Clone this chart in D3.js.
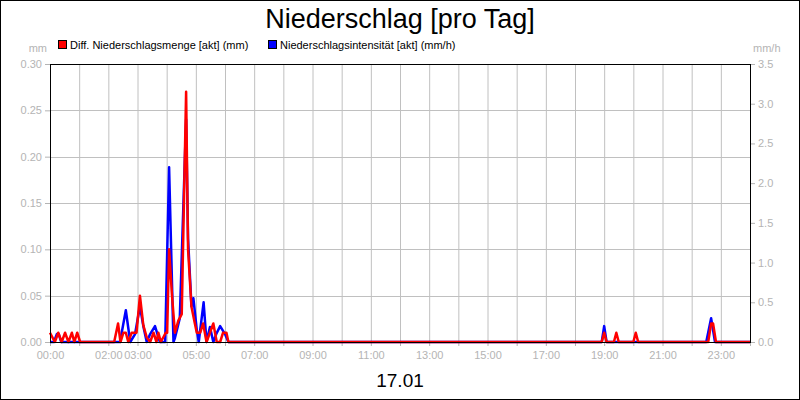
<!DOCTYPE html>
<html>
<head>
<meta charset="utf-8">
<title>Niederschlag [pro Tag]</title>
<script src="https://cdn.jsdelivr.net/npm/d3@7"></script>
<style>
    body { margin: 0; background: #fff; }
    text { font-family: "Liberation Sans", Arial, sans-serif; }
    .tick text { fill: #b4b4b4; font-size: 11px; }
    .grid line { stroke: #c0c0c0; stroke-width: 1; }
</style>
</head>
<body>
<script>
    // Diff. Niederschlagsmenge [akt] (mm)
    var redTimes = ["0:00", "0:10", "0:17", "0:24", "0:31", "0:38", "0:45", "0:50", "0:56", "1:02",
        "2:12", "2:20", "2:25", "2:31", "2:36", "2:41", "2:48", "2:55", "2:58", "3:05", "3:12", "3:19",
        "3:26", "3:33", "3:39", "3:43", "3:48", "3:58", "4:01", "4:05", "4:11", "4:17", "4:24", "4:31",
        "4:40", "4:44", "4:51", "4:58", "5:02", "5:09", "5:15", "5:22", "5:36", "5:43", "5:50", "5:56",
        "6:03", "6:07", "18:55", "19:00", "19:05", "19:20", "19:25", "19:30", "20:00", "20:05", "20:10",
        "22:34", "22:40", "22:44", "22:50", "24:00"];
    var redValues = [0.01, 0, 0.01, 0, 0.01, 0, 0.01, 0, 0.01, 0,
        0, 0.02, 0, 0.01, 0.01, 0, 0.01, 0.01, 0.01, 0.05, 0.018, 0.005,
        0, 0.01, 0, 0.01, 0, 0.01, 0.01, 0.10, 0.05, 0.01, 0.023, 0.03,
        0.27, 0.10, 0.038, 0.02, 0.01, 0.01, 0.02, 0, 0.02, 0, 0, 0.01,
        0.01, 0, 0, 0.01, 0, 0, 0.01, 0, 0, 0.01, 0,
        0, 0.02, 0.02, 0, 0];

    // Niederschlagsintensität [akt] (mm/h)
    var blueTimes = ["0:00", "0:08", "0:14", "0:18", "0:23", "2:24", "2:36", "2:45", "2:55", "3:05",
        "3:12", "3:19", "3:26", "3:36", "3:46", "3:57", "4:05", "4:14", "4:17", "4:23", "4:27", "4:40",
        "4:44", "4:51", "4:55", "5:02", "5:06", "5:16", "5:22", "5:29", "5:36", "5:42", "5:50", "6:00",
        "6:07", "18:55", "19:00", "19:05", "22:30", "22:40", "22:48", "24:00"];
    var blueValues = [0, 0, 0.1, 0.1, 0, 0, 0.4, 0, 0.1, 0.45,
        0.2, 0, 0.1, 0.2, 0, 0, 2.2, 0, 0.05, 0.2, 0.3, 2.8,
        1.3, 0.45, 0.55, 0.15, 0, 0.5, 0, 0.19, 0, 0.1, 0.2, 0.1,
        0, 0, 0.2, 0, 0, 0.3, 0, 0];

    var leftTicks = [0, 0.05, 0.10, 0.15, 0.20, 0.25, 0.30];
    var rightTicks = [0, 0.5, 1.0, 1.5, 2.0, 2.5, 3.0, 3.5];
    var hourLabels = [0, 2, 3, 5, 7, 9, 11, 13, 15, 17, 19, 21, 23];

    var width = 800, height = 400;
    var m = { left: 50, right: 50, top: 64, bottom: 58 };

    var toMin = function (s) {
        var p = s.split(":");
        return +p[0] * 60 + +p[1];
    };
    var fmtHour = function (h) { return (h < 10 ? "0" : "") + h + ":00"; };

    var svg = d3.select("body").append("svg").attr("width", width).attr("height", height);

    svg.append("rect").attr("x", 0.5).attr("y", 0.5).attr("width", width - 1).attr("height", height - 1)
        .attr("fill", "#fff").attr("stroke", "#000");

    var x = d3.scaleLinear().domain([0, 1440]).range([m.left, width - m.right]);
    var yL = d3.scaleLinear().domain([0, 0.3]).range([height - m.bottom, m.top]);
    var yR = d3.scaleLinear().domain([0, 3.5]).range([height - m.bottom, m.top]);

    // grid
    var grid = svg.append("g").attr("class", "grid");
    grid.selectAll(".v").data(d3.range(1, 24)).enter().append("line")
        .attr("x1", d => x(d * 60) + 0.5).attr("x2", d => x(d * 60) + 0.5)
        .attr("y1", m.top).attr("y2", height - m.bottom);
    grid.selectAll(".h").data(leftTicks.slice(1, -1)).enter().append("line")
        .attr("x1", m.left).attr("x2", width - m.right)
        .attr("y1", d => Math.round(yL(d)) + 0.5).attr("y2", d => Math.round(yL(d)) + 0.5);

    // axes
    var xAxis = d3.axisBottom(x).tickValues(d3.range(0, 25).map(h => h * 60)).tickSize(4)
        .tickFormat(d => hourLabels.indexOf(d / 60) >= 0 ? fmtHour(d / 60) : "");
    var gx = svg.append("g").attr("transform", "translate(0," + (height - m.bottom) + ")").call(xAxis);
    gx.select(".domain").remove();
    gx.selectAll(".tick line").attr("stroke", "#b4b4b4");
    gx.selectAll(".tick text").attr("dy", "0.9em");

    var gl = svg.append("g").attr("transform", "translate(" + m.left + ",0)")
        .call(d3.axisLeft(yL).tickValues(leftTicks).tickFormat(d3.format(".2f")).tickSize(5).tickPadding(3));
    gl.select(".domain").remove();
    gl.selectAll(".tick line").attr("stroke", "#b4b4b4");

    var gr = svg.append("g").attr("transform", "translate(" + (width - m.right) + ",0)")
        .call(d3.axisRight(yR).tickValues(rightTicks).tickFormat(d3.format(".1f")).tickSize(5).tickPadding(3));
    gr.select(".domain").remove();
    gr.selectAll(".tick line").attr("stroke", "#b4b4b4");

    svg.append("text").attr("x", 47).attr("y", 52).attr("text-anchor", "end")
        .attr("fill", "#b4b4b4").attr("font-size", 11).text("mm");
    svg.append("text").attr("x", 753).attr("y", 52)
        .attr("fill", "#b4b4b4").attr("font-size", 11).text("mm/h");

    // series
    var blueData = blueTimes.map((t, i) => ({ t: toMin(t), v: blueValues[i] }));
    var redData = redTimes.map((t, i) => ({ t: toMin(t), v: redValues[i] }));

    svg.append("path").datum(blueData)
        .attr("fill", "none").attr("stroke", "#0000ff").attr("stroke-width", 2.5).attr("stroke-linejoin", "round")
        .attr("d", d3.line().x(d => x(d.t)).y(d => yR(d.v)));
    svg.append("path").datum(redData)
        .attr("fill", "none").attr("stroke", "#ff0000").attr("stroke-width", 2.5).attr("stroke-linejoin", "round")
        .attr("d", d3.line().x(d => x(d.t)).y(d => yL(d.v)));

    // frame
    svg.append("rect").attr("x", m.left + 0.5).attr("y", m.top + 0.5)
        .attr("width", width - m.left - m.right).attr("height", height - m.top - m.bottom)
        .attr("fill", "none").attr("stroke", "#000");

    // title
    svg.append("text").attr("x", width / 2).attr("y", 28).attr("text-anchor", "middle")
        .attr("font-size", 27).attr("fill", "#000").text("Niederschlag [pro Tag]");
    svg.append("text").attr("x", width / 2).attr("y", 387).attr("text-anchor", "middle")
        .attr("font-size", 19).attr("fill", "#000").text("17.01");

    // legend
    var legend = [
        { name: "Diff. Niederschlagsmenge [akt] (mm)", color: "#ff0000", x: 58 },
        { name: "Niederschlagsintensität [akt] (mm/h)", color: "#0000ff", x: 268 }
    ];
    var lg = svg.selectAll(".legend").data(legend).enter().append("g")
        .attr("transform", d => "translate(" + d.x + ",40)");
    lg.append("rect").attr("x", 0.5).attr("y", 0.5).attr("width", 8).attr("height", 8)
        .attr("fill", d => d.color).attr("stroke", "#000");
    lg.append("text").attr("x", 12).attr("y", 8.5).attr("font-size", 11).attr("fill", "#000").text(d => d.name);
</script>
</body>
</html>
